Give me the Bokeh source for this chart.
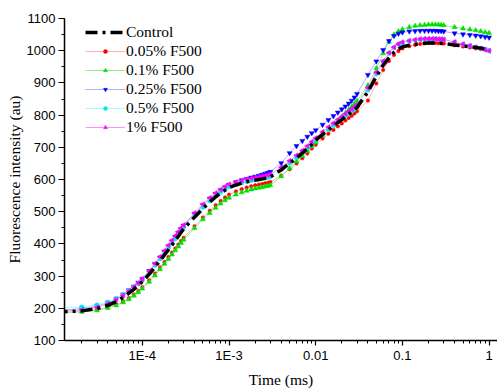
import numpy as np
from bokeh.plotting import figure
from bokeh.models import Range1d, FixedTicker, SingleIntervalTicker, CustomJSTickFormatter, Legend, LegendItem
from bokeh.embed import file_html
from bokeh.resources import INLINE

# ---------------- data ----------------
time_ms = [
    1e-5, 2e-5, 3e-5, 4e-5, 5e-5, 6e-5, 7e-5, 8e-5, 9e-5,
    1.0e-4, 1.2e-4, 1.4e-4, 1.6e-4, 1.8e-4, 2.0e-4, 2.2e-4, 2.4e-4, 2.6e-4, 2.8e-4, 3.0e-4,
    4e-4, 5e-4, 6e-4, 7e-4, 8e-4, 9e-4,
    1.0e-3, 1.2e-3, 1.4e-3, 1.6e-3, 1.8e-3, 2.0e-3, 2.2e-3, 2.4e-3, 2.6e-3, 2.8e-3, 3.0e-3,
    4e-3, 5e-3, 6e-3, 7e-3, 8e-3, 9e-3,
    1.0e-2, 1.2e-2, 1.4e-2, 1.6e-2, 1.8e-2, 2.0e-2, 2.2e-2, 2.4e-2, 2.6e-2, 2.8e-2, 3.0e-2,
    4e-2, 5e-2, 6e-2, 7e-2, 8e-2, 9e-2,
    0.10, 0.12, 0.14, 0.16, 0.18, 0.20, 0.22, 0.24, 0.26, 0.28, 0.30,
    0.4, 0.5, 0.6, 0.7, 0.8, 0.9, 1.0,
]

control = [
    188, 192, 199, 209, 221, 234, 247, 259, 271,
    283, 306, 328, 348, 366, 382, 397, 411, 424, 436, 447,
    483, 510, 530, 546, 558, 567,
    575, 583, 589, 593, 596, 598, 600, 602, 604, 606, 608,
    630, 650, 667, 682, 696, 709,
    722, 740, 754, 766, 777, 786, 795, 803, 810, 817, 824,
    872, 920, 955, 978, 995, 1005,
    1012, 1017, 1020, 1022, 1023, 1024, 1024, 1024, 1023, 1023, 1022,
    1018, 1015, 1012, 1010, 1008, 1006, 1004,
]

f005 = [
    187, 190, 196, 203, 212, 222, 232, 243, 254,
    265, 287, 308, 327, 344, 359, 373, 386, 398, 409, 419,
    455, 482, 503, 520, 533, 544,
    553, 563, 570, 575, 579, 582, 584, 586, 588, 590, 592,
    612, 632, 650, 666, 681, 696,
    708, 727, 742, 754, 765, 774, 783, 791, 798, 805, 812,
    845, 898, 940, 968, 987, 999,
    1007, 1014, 1018, 1021, 1023, 1024, 1024, 1024, 1023, 1023, 1022,
    1017, 1013, 1010, 1007, 1005, 1003, 1001,
]

f01 = [
    186, 189, 194, 201, 209, 218, 228, 239, 250,
    261, 282, 302, 321, 338, 353, 367, 380, 392, 403, 413,
    449, 476, 496, 512, 525, 535,
    543, 553, 560, 565, 569, 572, 574, 576, 578, 580, 582,
    610, 635, 656, 673, 688, 702,
    715, 737, 755, 770, 783, 795, 806, 816, 826, 835, 844,
    892, 945, 992, 1028, 1050, 1060,
    1066, 1073, 1077, 1079, 1080, 1081, 1081, 1081, 1081, 1080, 1079,
    1073, 1069, 1066, 1063, 1060, 1057, 1055,
]

f025 = [
    193, 199, 207, 218, 230, 243, 256, 268, 280,
    292, 316, 338, 358, 376, 392, 407, 421, 434, 446, 457,
    493, 520, 540, 555, 567, 576,
    584, 592, 598, 602, 606, 609, 612, 615, 618, 621, 624,
    651, 682, 704, 720, 733, 744,
    753, 770, 785, 797, 808, 818, 827, 836, 845, 855, 866,
    925, 967, 1002, 1030, 1046, 1053,
    1057, 1060, 1061, 1062, 1062, 1062, 1062, 1062, 1061, 1061, 1060,
    1054, 1051, 1049, 1047, 1045, 1043, 1041,
]

f05 = [
    200, 204, 210, 219, 230, 242, 254, 266, 277,
    289, 312, 334, 354, 372, 388, 402, 416, 429, 441, 452,
    488, 514, 534, 549, 561, 570,
    578, 585, 590, 594, 597, 599, 601, 603, 605, 607, 609,
    631, 651, 668, 683, 697, 710,
    722, 741, 756, 768, 779, 788, 797, 805, 812, 819, 826,
    878, 928, 965, 992, 1010, 1020,
    1025, 1030, 1033, 1035, 1036, 1036, 1036, 1036, 1035, 1035, 1034,
    1026, 1020, 1015, 1011, 1007, 1004, 1001,
]

f1 = [
    190, 195, 203, 214, 227, 240, 253, 266, 278,
    291, 316, 339, 360, 379, 396, 411, 425, 438, 449, 459,
    496, 523, 543, 558, 569, 578,
    585, 592, 597, 601, 604, 606, 608, 610, 612, 614, 616,
    638, 658, 675, 690, 704, 717,
    729, 748, 763, 775, 786, 795, 804, 812, 819, 826, 833,
    885, 933, 968, 994, 1011, 1021,
    1026, 1031, 1034, 1036, 1037, 1037, 1037, 1037, 1036, 1036, 1035,
    1027, 1020, 1015, 1011, 1007, 1003, 999,
]

series_names = ["0.05% F500", "0.1% F500", "0.25% F500", "0.5% F500", "1% F500"]
series_values = [f005, f01, f025, f05, f1]

x_tick_values = [1e-4, 1e-3, 1e-2, 1e-1, 1.0]
x_tick_labels = ["1E-4", "1E-3", "0.01", "0.1", "1"]

# ---------------- styles ----------------
marker_colors = ["#ff0000", "#00e000", "#0000ff", "#00e8e8", "#ff00ff"]
line_colors = ["#ffb0b0", "#90f090", "#b0b0ff", "#a0ffff", "#ff90ff"]
markers = ["circle", "triangle", "inverted_triangle", "circle", "triangle"]
marker_sizes = [3.5, 5, 5, 4.5, 5]
marker_angles = [0, 0, 0, 0, np.pi / 2]

p = figure(width=497, height=390, x_axis_type="log",
           x_range=Range1d(1.265e-5, 1.25), y_range=Range1d(100, 1100),
           output_backend="svg", toolbar_location=None,
           min_border_left=64, min_border_right=0, min_border_top=18, min_border_bottom=44)
p.outline_line_color = None
p.xgrid.visible = False
p.ygrid.visible = False
p.background_fill_color = "white"

items = []
for name, vals, mc, lc, mk, ms, ang in zip(series_names, series_values, marker_colors,
                                           line_colors, markers, marker_sizes, marker_angles):
    r_line = p.line(time_ms, vals, line_color=lc, line_width=1)
    r_sc = p.scatter(time_ms, vals, marker=mk, size=ms, angle=ang,
                     fill_color=mc, line_color=mc, line_width=0.5)
    items.append(LegendItem(label=name, renderers=[r_line, r_sc]))

r_ctrl = p.line(time_ms, control, line_color="black", line_width=3.5, line_dash="12 5 3 5")
items.insert(0, LegendItem(label="Control", renderers=[r_ctrl]))

legend = Legend(items=items, location=(21, 204))
legend.background_fill_alpha = 0
legend.border_line_color = None
legend.padding = 0
legend.spacing = 0
legend.margin = 0
legend.glyph_width = 40
legend.glyph_height = 10
legend.label_height = 19
legend.label_standoff = 1
legend.label_text_font = "Liberation Serif"
legend.label_text_font_size = "15.5px"
legend.label_text_color = "black"
p.add_layout(legend, "center")

# axes
for ax in (p.xaxis[0], p.yaxis[0]):
    ax.axis_line_width = 1.5
    ax.axis_line_color = "black"
    ax.major_tick_line_color = "black"
    ax.minor_tick_line_color = "black"
    ax.major_tick_line_width = 1.2
    ax.minor_tick_line_width = 1
    ax.major_tick_in = 0
    ax.minor_tick_in = 0
    ax.major_label_text_font = "Liberation Sans"
    ax.major_label_text_font_size = "13px"
    ax.major_label_text_color = "black"
    ax.axis_label_text_font = "Liberation Serif"
    ax.axis_label_text_font_size = "15.5px"
    ax.axis_label_text_font_style = "normal"
    ax.axis_label_text_color = "black"

p.xaxis.axis_label = "Time (ms)"
p.yaxis.axis_label = "Fluorescence intensity (au)"

minor = []
for d in [1e-5, 1e-4, 1e-3, 1e-2, 1e-1]:
    for k in range(2, 10):
        minor.append(d * k)
p.xaxis.ticker = FixedTicker(ticks=x_tick_values, minor_ticks=minor)
p.xaxis.formatter = CustomJSTickFormatter(args=dict(vals=x_tick_values, labels=x_tick_labels), code="""
for (let i = 0; i < vals.length; i++) {
  if (Math.abs(Math.log10(tick) - Math.log10(vals[i])) < 1e-6) return labels[i];
}
return '';
""")
p.xaxis.major_tick_out = 5
p.xaxis.minor_tick_out = 3
p.xaxis.major_label_standoff = 2
p.xaxis.axis_label_standoff = 5

p.yaxis.ticker = SingleIntervalTicker(interval=100, num_minor_ticks=2)
p.yaxis.major_tick_out = 6
p.yaxis.minor_tick_out = 3
p.yaxis.major_label_standoff = 3
p.yaxis.axis_label_standoff = 1

open("out.html", "w").write(file_html(p, INLINE))
